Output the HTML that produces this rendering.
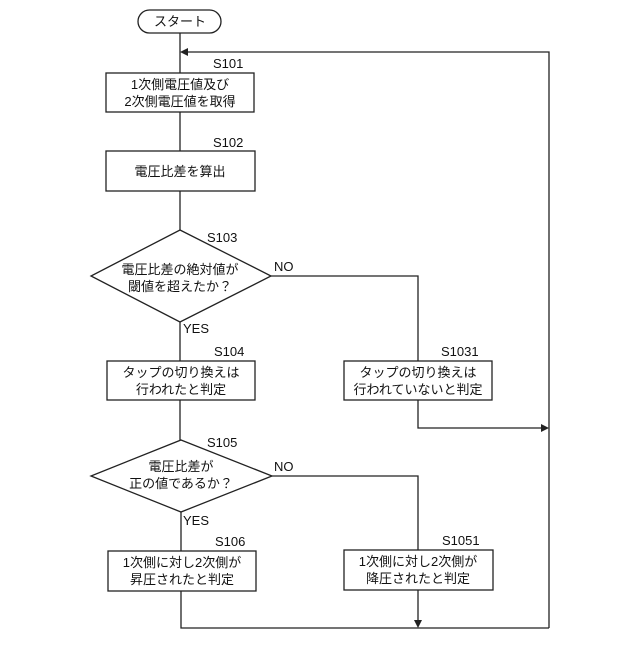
<!DOCTYPE html>
<html><head><meta charset="utf-8"><style>
body{margin:0;background:#fff}
svg text{font-family:"Liberation Sans","Noto Sans CJK JP",sans-serif;font-size:13px;fill:#111}
</style></head><body>
<svg width="640" height="640" viewBox="0 0 640 640" xmlns="http://www.w3.org/2000/svg">
<g stroke="#222" stroke-width="1.3" fill="none">
<rect x="138" y="10" width="83" height="23" rx="11.5"/>
<line x1="180" y1="33" x2="180" y2="73"/>
<polyline points="549,628 549,52 184,52"/>
<rect x="106" y="73" width="148" height="39"/>
<line x1="180" y1="112" x2="180" y2="151"/>
<rect x="106" y="151" width="149" height="40"/>
<line x1="180" y1="191" x2="180" y2="230"/>
<polygon points="180,230 271,276 180,322 91,276"/>
<polyline points="271,276 418,276 418,361"/>
<line x1="180" y1="322" x2="180" y2="361"/>
<rect x="107" y="361" width="148" height="39"/>
<rect x="344" y="361" width="148" height="39"/>
<polyline points="418,400 418,428 544,428"/>
<line x1="180" y1="400" x2="180" y2="440"/>
<polygon points="181,440 272,476 181,512 91,476"/>
<polyline points="272,476 418,476 418,550"/>
<line x1="181" y1="512" x2="181" y2="551"/>
<rect x="108" y="551" width="148" height="40"/>
<rect x="344" y="550" width="149" height="40"/>
<polyline points="181,591 181,628 549,628"/>
<line x1="418" y1="590" x2="418" y2="622"/>
</g>
<g fill="#222">
<polygon points="180,52 188,48 188,56"/>
<polygon points="549,428 541,424 541,432"/>
<polygon points="418,628 414,620 422,620"/>
</g>
<text x="180" y="26" text-anchor="middle">スタート</text>
<text x="213" y="68">S101</text>
<text x="180" y="89" text-anchor="middle">1次側電圧値及び</text>
<text x="180" y="106" text-anchor="middle">2次側電圧値を取得</text>
<text x="213" y="147">S102</text>
<text x="180" y="176" text-anchor="middle">電圧比差を算出</text>
<text x="207" y="242">S103</text>
<text x="180" y="274" text-anchor="middle">電圧比差の絶対値が</text>
<text x="180" y="291" text-anchor="middle">閾値を超えたか？</text>
<text x="274" y="271">NO</text>
<text x="183" y="333">YES</text>
<text x="214" y="356">S104</text>
<text x="181" y="377" text-anchor="middle">タップの切り換えは</text>
<text x="181" y="394" text-anchor="middle">行われたと判定</text>
<text x="441" y="356">S1031</text>
<text x="418" y="377" text-anchor="middle">タップの切り換えは</text>
<text x="418" y="394" text-anchor="middle">行われていないと判定</text>
<text x="207" y="447">S105</text>
<text x="181" y="471" text-anchor="middle">電圧比差が</text>
<text x="181" y="488" text-anchor="middle">正の値であるか？</text>
<text x="274" y="471">NO</text>
<text x="183" y="525">YES</text>
<text x="215" y="546">S106</text>
<text x="182" y="567" text-anchor="middle">1次側に対し2次側が</text>
<text x="182" y="584" text-anchor="middle">昇圧されたと判定</text>
<text x="442" y="545">S1051</text>
<text x="418" y="566" text-anchor="middle">1次側に対し2次側が</text>
<text x="418" y="583" text-anchor="middle">降圧されたと判定</text>
</svg>
</body></html>
